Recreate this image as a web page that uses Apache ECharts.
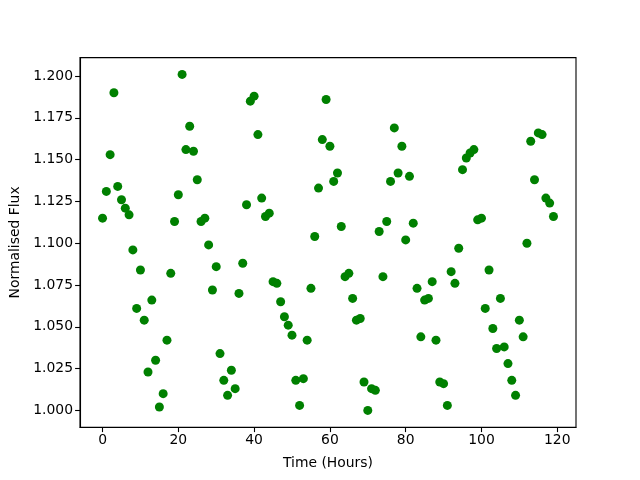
<!DOCTYPE html>
<html>
<head>
<meta charset="utf-8">
<script src="https://cdn.jsdelivr.net/npm/echarts@6/dist/echarts.min.js"></script>
<style>
  html, body { margin: 0; padding: 0; background: #fff; }
  #chart { width: 640px; height: 480px; }
</style>
</head>
<body>
<div id="chart"></div>
<script>
// hours 0..119, one reading per hour
const hours = [];
for (let i = 0; i < 120; i++) hours.push(i);

const flux = [
  1.115, 1.131, 1.153, 1.190, 1.134, 1.126, 1.121, 1.117, 1.096, 1.061,
  1.084, 1.054, 1.023, 1.066, 1.030, 1.002, 1.010, 1.042, 1.082, 1.113,
  1.129, 1.201, 1.156, 1.170, 1.155, 1.138, 1.113, 1.115, 1.099, 1.072,
  1.086, 1.034, 1.018, 1.009, 1.024, 1.013, 1.070, 1.088, 1.123, 1.185,
  1.188, 1.165, 1.127, 1.116, 1.118, 1.077, 1.076, 1.065, 1.056, 1.051,
  1.045, 1.018, 1.003, 1.019, 1.042, 1.073, 1.104, 1.133, 1.162, 1.186,
  1.158, 1.137, 1.142, 1.110, 1.080, 1.082, 1.067, 1.054, 1.055, 1.017,
  1.000, 1.013, 1.012, 1.107, 1.080, 1.113, 1.137, 1.169, 1.142, 1.158,
  1.102, 1.140, 1.112, 1.073, 1.044, 1.066, 1.067, 1.077, 1.042, 1.017,
  1.016, 1.003, 1.083, 1.076, 1.097, 1.144, 1.151, 1.154, 1.156, 1.114,
  1.115, 1.061, 1.084, 1.049, 1.037, 1.067, 1.038, 1.028, 1.018, 1.009,
  1.054, 1.044, 1.100, 1.161, 1.138, 1.166, 1.165, 1.127, 1.124, 1.116
];

const xTicks = [0, 20, 40, 60, 80, 100, 120];
const yTicks = [1.000, 1.025, 1.050, 1.075, 1.100, 1.125, 1.150, 1.175, 1.200];

const points = hours.map((h, i) => [h, flux[i]]);

const font = 'DejaVu Sans';
const chart = echarts.init(document.getElementById('chart'));
chart.setOption({
  animation: false,
  backgroundColor: '#fff',
  grid: {
    left: 80, right: 64, top: 57.6, bottom: 52.8,
    show: true, borderColor: '#000', borderWidth: 1.1, backgroundColor: 'transparent'
  },
  xAxis: {
    type: 'value',
    min: -5.95, max: 124.95,
    name: 'Time (Hours)',
    nameLocation: 'middle',
    nameGap: 29,
    nameTextStyle: { color: '#000', fontFamily: font, fontSize: 13.9 },
    splitLine: { show: false },
    axisLine: { show: true, onZero: false, lineStyle: { color: '#000', width: 1.1 } },
    axisTick: { show: true, inside: false, length: 4.9, customValues: xTicks, lineStyle: { color: '#000', width: 1.1 } },
    axisLabel: { customValues: xTicks, color: '#000', fontFamily: font, fontSize: 13.9, margin: 6 }
  },
  yAxis: {
    type: 'value',
    min: 0.98995, max: 1.21105,
    name: 'Normalised Flux',
    nameLocation: 'middle',
    nameGap: 53,
    nameTextStyle: { color: '#000', fontFamily: font, fontSize: 13.9 },
    splitLine: { show: false },
    axisLine: { show: true, onZero: false, lineStyle: { color: '#000', width: 1.1 } },
    axisTick: { show: true, inside: false, length: 4.9, customValues: yTicks, lineStyle: { color: '#000', width: 1.1 } },
    axisLabel: {
      customValues: yTicks, color: '#000', fontFamily: font, fontSize: 13.9, margin: 7,
      formatter: v => v.toFixed(3)
    }
  },
  series: [{
    type: 'scatter',
    data: points,
    symbolSize: 9,
    itemStyle: { color: '#008000', opacity: 1 }
  }]
});
</script>
</body>
</html>
